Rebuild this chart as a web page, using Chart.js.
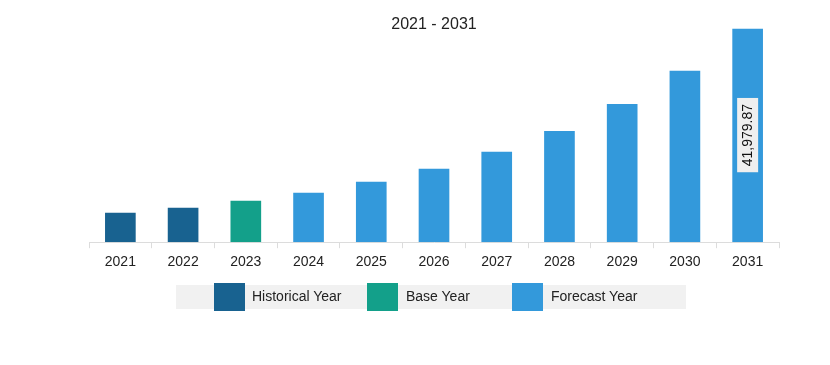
<!DOCTYPE html>
<html>
<head>
<meta charset="utf-8">
<script src="https://cdn.jsdelivr.net/npm/chart.js@4/dist/chart.umd.min.js"></script>
<style>
  html, body { margin: 0; padding: 0; background: #fff; }
  #wrap { position: relative; width: 830px; height: 365px; font-family: "Liberation Sans", Arial, sans-serif; }
  #legend { position: absolute; left: 176px; top: 285px; width: 510px; height: 24px; background: #f1f1f1; }
  .sw { position: absolute; top: -2px; width: 31px; height: 28px; box-sizing: border-box; }
  .lt { position: absolute; top: 3px; font-size: 14px; color: #222; white-space: nowrap; }
</style>
</head>
<body>
<div id="wrap">
  <canvas id="chart" width="830" height="365"></canvas>
  <div id="legend"></div>
</div>
<script>
// chart data
const years = ['2021', '2022', '2023', '2024', '2025', '2026', '2027', '2028', '2029', '2030', '2031'];
const values = [5890, 6870, 8240, 9810, 12000, 14520, 17850, 21920, 27210, 33740, 41979.87];
const yearTypes = ['hist', 'hist', 'base', 'fc', 'fc', 'fc', 'fc', 'fc', 'fc', 'fc', 'fc'];
const legendNames = ['Historical Year', 'Base Year', 'Forecast Year'];
const titleText = '2021 - 2031';
const labelText = '41,979.87';

const typeColors = { hist: '#186290', base: '#13a08a', fc: '#3399db' };
const legendColors = [typeColors.hist, typeColors.base, typeColors.fc];

// legend built by hand so it sits on the grey strip like the original
const legendDiv = document.getElementById('legend');
const swatchX = [38, 191, 336];
const textX = [76, 230, 375];
legendNames.forEach((name, i) => {
  const sw = document.createElement('div');
  sw.className = 'sw';
  sw.style.left = swatchX[i] + 'px';
  sw.style.background = legendColors[i];
  legendDiv.appendChild(sw);
  const t = document.createElement('div');
  t.className = 'lt';
  t.style.left = textX[i] + 'px';
  t.textContent = name;
  legendDiv.appendChild(t);
});

const titlePlugin = {
  id: 'topTitle',
  afterDraw(chart) {
    const { ctx, chartArea } = chart;
    ctx.save();
    ctx.font = '16px "Liberation Sans", Arial, sans-serif';
    ctx.fillStyle = '#222';
    ctx.textAlign = 'center';
    ctx.textBaseline = 'middle';
    ctx.fillText(titleText, (chartArea.left + chartArea.right) / 2, 25);
    ctx.restore();
  }
};

const lastLabelPlugin = {
  id: 'lastLabel',
  afterDatasetsDraw(chart) {
    const { ctx } = chart;
    const meta = chart.getDatasetMeta(0);
    const bar = meta.data[meta.data.length - 1];
    const cx = bar.x;
    const cy = (bar.y + bar.base) / 2;
    ctx.save();
    ctx.translate(cx, cy);
    ctx.rotate(-Math.PI / 2);
    ctx.font = '14px "Liberation Sans", Arial, sans-serif';
    const w = ctx.measureText(labelText).width + 12;
    ctx.fillStyle = '#efefef';
    ctx.fillRect(-w / 2, -10.5, w, 21);
    ctx.fillStyle = '#111';
    ctx.textAlign = 'center';
    ctx.textBaseline = 'middle';
    ctx.fillText(labelText, 0, 1);
    ctx.restore();
  }
};

new Chart(document.getElementById('chart').getContext('2d'), {
  type: 'bar',
  data: {
    labels: years,
    datasets: [{
      data: values,
      backgroundColor: yearTypes.map(t => typeColors[t]),
      borderColor: 'rgba(255,255,255,0.35)',
      borderWidth: 1,
      borderSkipped: 'bottom',
      barThickness: 32
    }]
  },
  options: {
    responsive: false,
    animation: false,
    layout: { padding: { left: 89, right: 51, top: 28, bottom: 88 } },
    plugins: { legend: { display: false }, tooltip: { enabled: false } },
    scales: {
      x: {
        offset: true,
        grid: { offset: true, drawOnChartArea: false, drawTicks: true, tickLength: 6, color: '#dcdcdc' },
        border: { color: '#dcdcdc' },
        ticks: { color: '#222', padding: 6, font: { family: '"Liberation Sans", Arial, sans-serif', size: 14 } }
      },
      y: { display: false, min: 0, max: 41979.87 }
    }
  },
  plugins: [titlePlugin, lastLabelPlugin]
});
</script>
</body>
</html>
